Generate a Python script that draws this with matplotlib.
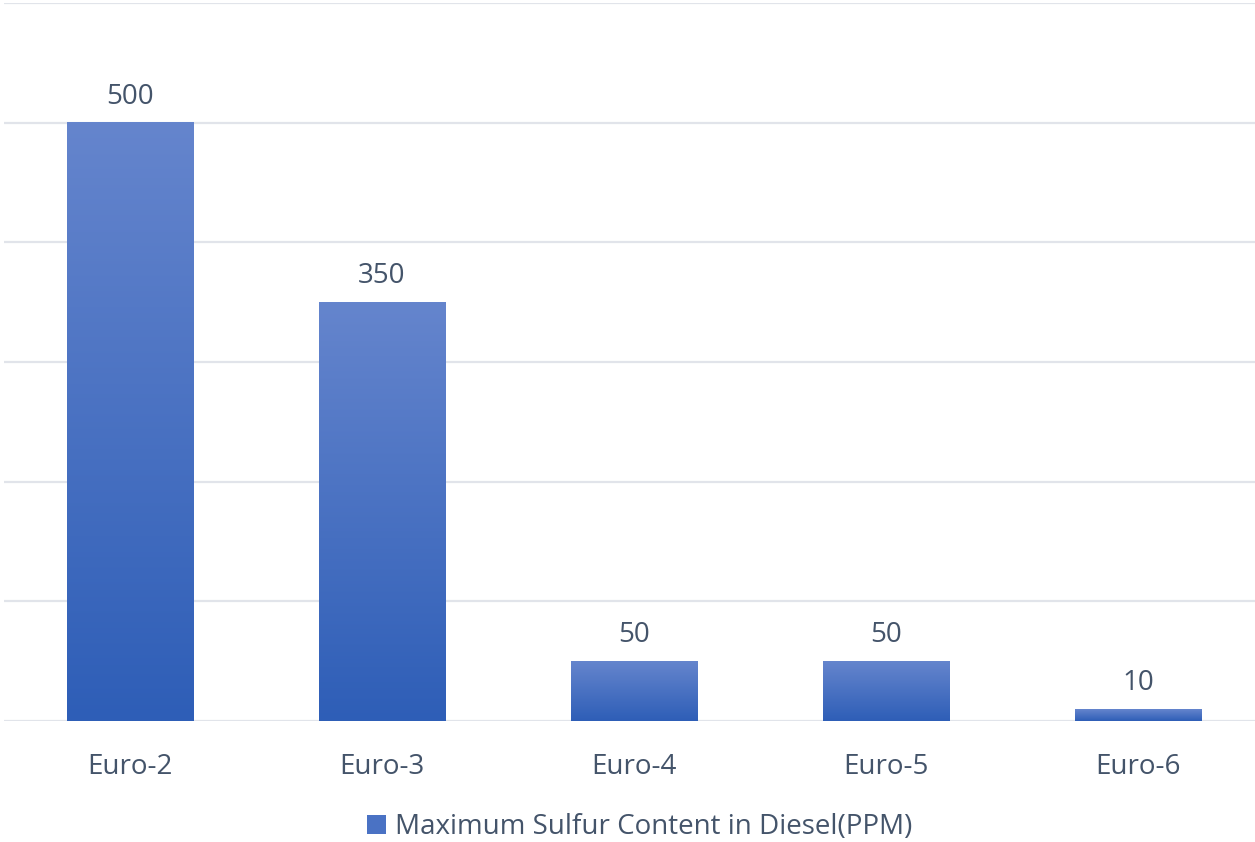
import numpy as np
import matplotlib.pyplot as plt
from matplotlib.colors import LinearSegmentedColormap
from matplotlib.patches import Rectangle

categories = ['Euro-2', 'Euro-3', 'Euro-4', 'Euro-5', 'Euro-6']
sulfur_ppm = [500, 350, 50, 50, 10]
series_name = 'Maximum Sulfur Content in Diesel(PPM)'

text_color = '#44546A'
grid_color = '#E1E4EA'
top_color = '#6585CD'
bottom_color = '#2E5EB7'

plt.rcParams['font.family'] = ['Open Sans', 'DejaVu Sans']

fig = plt.figure(figsize=(12.55, 8.42), dpi=100)
ax = fig.add_axes([4 / 1255, 121 / 842, 1251 / 1255, 718 / 842])

cmap = LinearSegmentedColormap.from_list('bar', [bottom_color, top_color])
grad = np.linspace(0, 1, 256).reshape(-1, 1)
width = 0.5
x = np.arange(len(categories))
for xi, v in zip(x, sulfur_ppm):
    ax.imshow(grad, cmap=cmap, origin='lower', aspect='auto',
              extent=[xi - width / 2, xi + width / 2, 0, v], zorder=3)
    ax.text(xi, v + 10, str(v), ha='center', va='bottom',
            fontsize=20, color=text_color, zorder=4)

ax.set_xlim(-0.5, 4.464)
ax.set_ylim(0, 600)
ax.set_yticks(np.arange(0, 601, 100))
ax.yaxis.grid(True, color=grid_color, linewidth=1.6, zorder=0)
ax.set_axisbelow(True)
ax.set_xticks(x)
ax.set_xticklabels(categories, fontsize=20, color=text_color)
ax.tick_params(axis='x', length=0, pad=23)
ax.tick_params(axis='y', length=0, labelleft=False)
for s in ax.spines.values():
    s.set_visible(False)

handle = Rectangle((0, 0), 1, 1, facecolor='#4A72C4')
fig.legend([handle], [series_name], loc='center',
           bbox_to_anchor=(0.5 + 12 / 1255, 1 - 827 / 842),
           frameon=False, fontsize=20, labelcolor=text_color,
           handlelength=0.7, handleheight=0.7, handletextpad=0.3)

fig.savefig('out.png', dpi=100)
